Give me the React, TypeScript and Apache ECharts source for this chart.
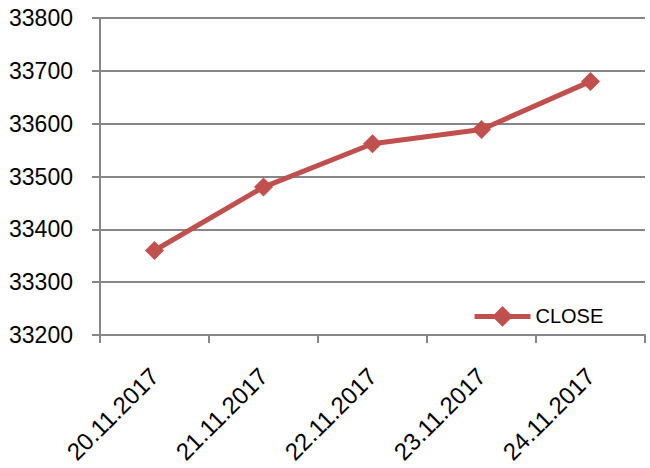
import React, { useEffect, useRef } from "react";
import * as echarts from "echarts";

const categories = ["20.11.2017", "21.11.2017", "22.11.2017", "23.11.2017", "24.11.2017"];
const closeValues = [33360, 33480, 33562, 33589, 33680];
const seriesName = "CLOSE";

export default function App() {
  const ref = useRef<HTMLDivElement>(null);
  useEffect(() => {
    const chart = echarts.init(ref.current!, null, { renderer: "svg" });
    const font = "Liberation Sans";
    chart.setOption({
      animation: false,
      backgroundColor: "#ffffff",
      grid: { left: 100, right: 5, top: 18, bottom: 133, containLabel: false },
      legend: {
        data: [seriesName],
        left: 467,
        top: 301,
        itemWidth: 56,
        itemHeight: 26,
        itemGap: 4,
        lineStyle: { width: 5 },
        textStyle: { fontFamily: font, fontSize: 20, color: "#000" },
      },
      xAxis: {
        type: "category",
        data: categories,
        boundaryGap: true,
        axisLine: { lineStyle: { color: "#868686", width: 2 } },
        axisTick: { show: true, length: 8, lineStyle: { color: "#868686", width: 2 } },
        axisLabel: { rotate: 45, fontFamily: font, fontSize: 24, color: "#000", margin: 37 },
        splitLine: { show: false },
      },
      yAxis: {
        type: "value",
        min: 33200,
        max: 33800,
        interval: 100,
        axisLine: { show: true, lineStyle: { color: "#868686", width: 2 } },
        axisTick: { show: true, length: 8, lineStyle: { color: "#868686", width: 2 } },
        axisLabel: {
          fontFamily: font,
          fontSize: 23,
          color: "#000",
          margin: 27,
          formatter: (v: number) => String(v),
        },
        splitLine: { show: true, lineStyle: { color: "#868686", width: 2 } },
      },
      series: [
        {
          name: seriesName,
          type: "line",
          data: closeValues,
          symbol: "diamond",
          symbolSize: 19,
          lineStyle: { color: "#C0504D", width: 5 },
          itemStyle: { color: "#C0504D" },
        },
      ],
    });
    return () => chart.dispose();
  }, []);
  return (
    <div
      ref={ref}
      style={{ position: "absolute", left: 0, top: 0, width: 650, height: 468 }}
    />
  );
}
